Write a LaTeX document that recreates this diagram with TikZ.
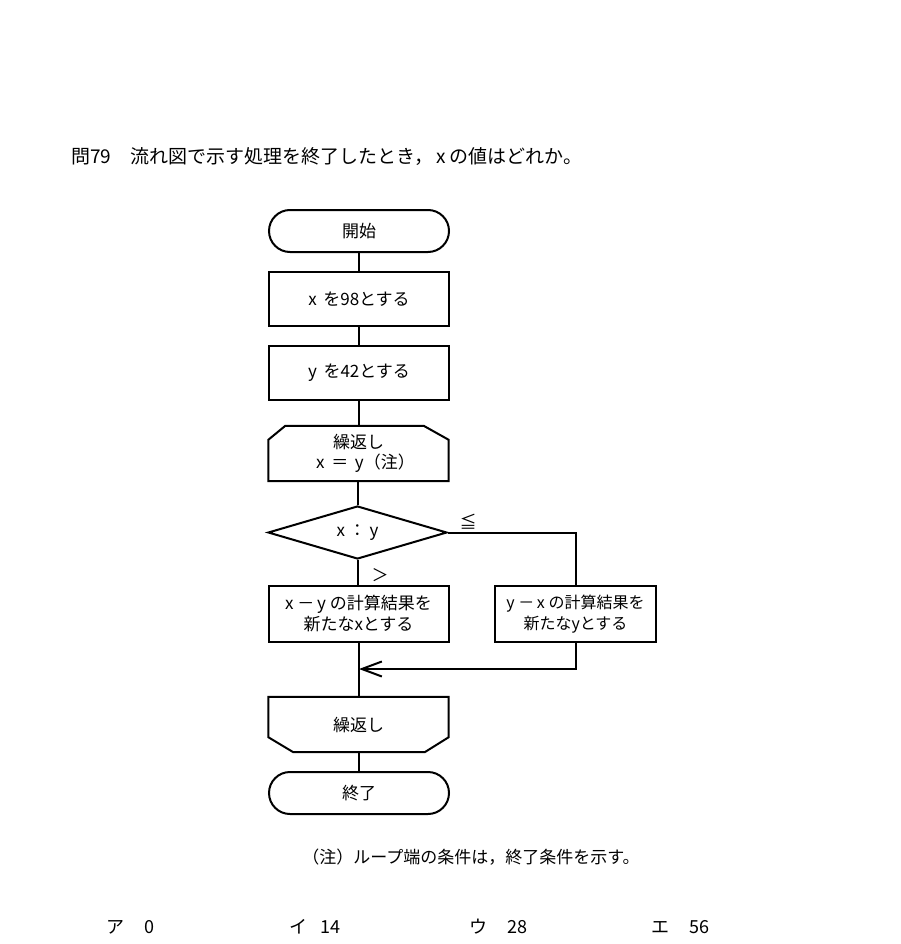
\documentclass[tikz,border=0pt]{standalone}
\usepackage{fontspec}
\setmainfont{Noto Sans CJK JP}
\usetikzlibrary{shapes.geometric,arrows.meta,calc}
\tikzset{
  flow/.style={line width=2pt},
  txt/.style={font=\fontsize{17}{21}\selectfont, inner sep=0pt},
  procbox/.style={flow, draw, rectangle, minimum width=180pt, minimum height=54pt, align=center, txt, inner sep=0pt},
  termbox/.style={flow, draw, rectangle, rounded corners=21pt, minimum width=180pt, minimum height=42pt, txt},
  decbox/.style={flow, draw, diamond, aspect=3.4, minimum width=179pt, minimum height=53pt, txt},
  loopbox/.style={rectangle, minimum width=180pt, minimum height=55pt, align=center, txt},
  answer/.style={anchor=west, font=\fontsize{18}{20}\selectfont, inner sep=0pt},
}
\begin{document}
\begin{tikzpicture}[x=1pt,y=-1pt]
\useasboundingbox (0,0) rectangle (900,944);
% title
\node[anchor=west, font=\fontsize{19}{22}\selectfont, inner sep=0pt] (title) at (71,157) {問79　流れ図で示す処理を終了したとき，\,x\,の値はどれか。};
% nodes
\node[termbox] (start) at (359,231) {開始};
\node[procbox] (b1) at (359,299) {x\, を98とする};
\node[procbox] (b2) at (359,373) {y\, を42とする};
\node[loopbox] (l1) at (358.5,453.5) {繰返し\\[-1pt]\hspace*{14pt}x\, ＝\, y（注）};
\draw[flow] ($(l1.south west)$) -- ($(l1.north west)+(0,14)$) -- ($(l1.north west)+(17,0)$) -- ($(l1.north east)+(-25,0)$) -- ($(l1.north east)+(0,14)$) -- (l1.south east) -- cycle;
\node[decbox] (dec) at (357.5,532.5) {x ： y};
\node[procbox, minimum height=56pt] (bl) at (358.5,614) {x －\hspace{-1pt} y の計算結果を\\新たなxとする};
\node[procbox, minimum width=161pt, minimum height=56pt, font=\fontsize{16}{21}\selectfont] (br) at (575.5,614) {y －\hspace{-1pt} x の計算結果を\\新たなyとする};
\node[loopbox] (l2) at (358.5,724.5) {繰返し};
\draw[flow] (l2.north west) -- (l2.north east) -- ($(l2.south east)+(0,-15)$) -- ($(l2.south east)+(-24,0)$) -- ($(l2.south west)+(25,0)$) -- ($(l2.south west)+(0,-15)$) -- cycle;
\node[termbox] (end) at (359,793) {終了};
\coordinate (m) at (359,669);
% labels
\node[txt] (le) at (468,522) {≦};
\node[txt] (gt) at (380,575) {＞};
% connectors
\draw[flow] (start.south) -- (b1.north);
\draw[flow] (b1.south) -- (b2.north);
\draw[flow] (b2.south) -- (b2.south |- l1.north);
\draw[flow] (l1.south -| dec.north) -- (dec.north);
\draw[flow] (dec.south) -- (dec.south |- bl.north);
\draw[flow] (dec.east) -| (br.north);
\draw[flow, -{Straight Barb[length=20pt,width=15pt]}] (br.south) |- (m);
\draw[flow] (bl.south -| m) -- (m |- l2.north);
\draw[flow] (l2.south -| end.north) -- (end.north);
% note
\node[font=\fontsize{17}{20}\selectfont, inner sep=0pt] (note) at (471,857) {（注）ループ端の条件は，終了条件を示す。};
% answers
\node[answer] (a1) at (106,927) {ア\hspace{20pt}0};
\node[answer] (a2) at (289,927) {イ\hspace{13pt}14};
\node[answer] (a3) at (469,927) {ウ\hspace{20pt}28};
\node[answer] (a4) at (651,927) {エ\hspace{20pt}56};
\end{tikzpicture}
\end{document}
